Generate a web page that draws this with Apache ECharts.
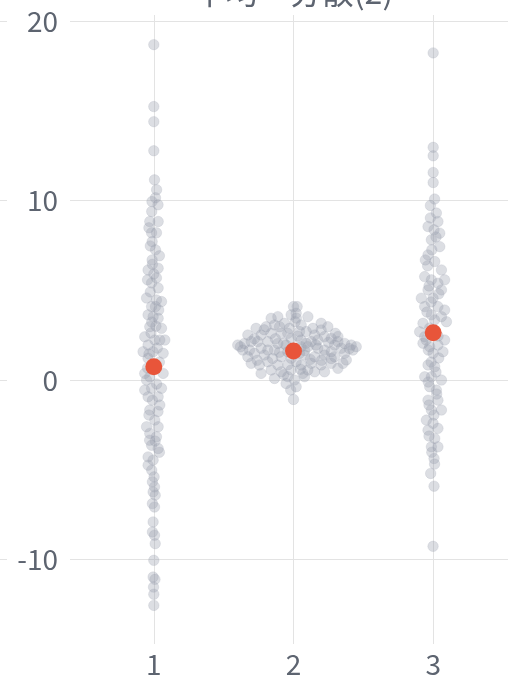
<!DOCTYPE html>
<html>
<head>
<meta charset="utf-8">
<script src="https://cdn.jsdelivr.net/npm/echarts@6/dist/echarts.min.js"></script>
<style>
  html, body { margin: 0; padding: 0; background: #ffffff; }
  #chart { width: 508px; height: 678px; }
</style>
</head>
<body>
<div id="chart"></div>
<script>
// Panel title and axis ticks
const panelTitle = '平均・分散(2)';
const groupLabels = ['1', '2', '3'];
const xTicks = [1, 2, 3];
const yTicks = [-10, 0, 10, 20];

// Swarm points per group: [group position, value]
const group1 = [
  [1.00, 18.68], [1.00, 15.23], [1.00, 14.39], [1.00, 12.77], [1.005, 11.15], [1.02, 10.60],
  [1.012, 10.15], [0.987, 9.94], [0.985, 9.39], [0.971, 8.83], [1.031, 8.83], [0.984, 8.20],
  [1.019, 8.20], [0.988, 7.71], [1.012, 7.25], [0.988, 6.69], [0.959, 6.13], [1.031, 6.23],
  [0.955, 5.58], [0.984, 5.41], [1.019, 5.69], [1.031, 5.13], [0.948, 4.57], [1.019, 4.46],
  [1.055, 4.37], [0.984, 4.09], [1.012, 4.09], [0.959, 3.63], [0.995, 3.53], [1.031, 3.44],
  [0.971, 2.97], [1.055, 2.88], [0.935, 2.41], [1.007, 2.23], [1.043, 2.23], [1.079, 2.23],
  [0.959, 1.95], [0.923, 1.58], [0.995, 1.58], [1.067, 1.49], [0.959, 1.21], [0.935, 0.37],
  [1.067, 0.37], [0.971, 0.18], [0.948, 0.00], [0.935, -0.56], [0.984, -0.46], [1.055, -0.46],
  [0.959, -0.93], [1.031, -0.93], [1.043, -1.39], [0.971, -1.67], [1.007, -2.23], [0.948, -2.60],
  [1.031, -2.60], [0.971, -2.97], [1.019, -3.16], [0.984, -3.63], [1.031, -3.81], [0.959, -4.28],
  [0.995, -4.46], [0.959, -4.74], [1.002, -5.39], [0.99, -5.67], [1.005, -5.95], [0.995, -6.23],
  [1.01, -6.41], [0.99, -6.88], [1.005, -7.07], [0.995, -7.90], [0.99, -8.46], [1.005, -8.64],
  [1.01, -9.11], [1.00, -10.04], [0.995, -10.97], [1.008, -11.10], [0.998, -11.53], [1.00, -11.93],
  [1.00, -12.55], [1.03, 9.76], [0.965, 8.48], [0.975, 7.47], [1.04, 6.92], [1.00, 5.91],
  [0.975, 4.91], [1.035, 3.90], [0.985, 3.23], [0.98, 2.62], [1.025, 1.78], [1.04, 1.00],
  [0.955, 0.67], [1.02, -0.22], [0.99, -1.12], [0.965, -1.95], [1.01, -3.40], [1.04, -4.02],
  [0.985, -5.02], [1.015, 3.00], [0.965, 1.45], [1.03, -1.75], [0.99, 6.45], [0.97, -3.35]
];

const group2 = [
  [2.000, 4.09], [2.026, 4.09], [1.983, 3.63], [2.019, 3.72], [2.012, 3.25], [1.840, 3.44],
  [1.888, 3.53], [2.103, 3.53], [2.198, 3.16], [2.246, 2.97], [1.864, 3.07], [1.804, 2.97],
  [1.935, 3.16], [2.055, 3.07], [1.971, 2.88], [1.732, 2.88], [1.673, 2.51], [1.768, 2.51],
  [1.840, 2.60], [1.912, 2.60], [2.091, 2.70], [2.151, 2.51], [2.222, 2.42], [2.294, 1.95],
  [2.270, 2.32], [1.744, 2.14], [1.816, 2.14], [1.888, 2.04], [1.983, 2.32], [2.055, 2.23],
  [2.127, 2.14], [1.601, 1.95], [1.649, 2.04], [1.697, 2.14], [1.768, 1.77], [1.864, 1.67],
  [2.103, 1.86], [2.174, 1.77], [2.222, 1.67], [2.318, 2.14], [2.366, 2.04], [2.413, 1.95],
  [2.449, 1.86], [2.342, 1.77], [1.673, 1.30], [1.720, 1.49], [1.792, 1.39], [1.912, 1.30],
  [2.079, 1.39], [2.151, 1.30], [2.222, 1.39], [2.294, 1.30], [2.366, 1.49], [2.425, 1.67],
  [1.697, 0.93], [1.756, 0.84], [1.816, 1.02], [1.888, 0.84], [2.055, 0.84], [2.127, 0.93],
  [2.198, 0.84], [2.270, 0.93], [2.354, 0.93], [2.378, 1.12], [2.318, 0.65], [1.768, 0.37],
  [1.840, 0.56], [1.912, 0.46], [1.983, 0.56], [2.067, 0.37], [2.151, 0.46], [2.222, 0.46],
  [1.864, 0.09], [1.959, 0.19], [2.079, 0.19], [1.947, -0.19], [2.007, 0.00], [2.019, -0.37],
  [2.000, -1.08], [2.000, 1.77], [1.959, 1.58], [2.043, 1.49], [1.983, 1.21], [2.019, 1.02],
  [1.947, 1.95], [2.055, 1.86], [1.959, 2.60], [2.043, 2.70], [2.174, 2.23], [1.816, 1.67],
  [1.637, 1.67], [2.270, 1.58], [2.139, 2.88], [2.198, 2.79], [2.318, 2.42], [1.685, 1.67],
  [2.103, 0.56], [1.900, 2.97], [1.72, 2.30], [1.79, 2.80], [1.87, 2.30], [1.93, 2.05],
  [2.03, 2.45], [2.09, 2.05], [2.16, 1.95], [2.25, 2.10], [2.30, 2.60], [2.20, 1.10],
  [2.12, 1.15], [1.85, 1.20], [1.74, 1.10], [1.90, 1.55], [2.08, 1.65], [2.40, 1.75],
  [1.62, 1.85], [2.27, 1.20], [1.96, 0.85], [2.05, 0.60], [1.93, 0.30], [1.98, -0.55],
  [2.02, 3.45]
];

const group3 = [
  [3.00, 18.22], [3.00, 12.96], [3.00, 12.49], [3.00, 11.56], [3.00, 11.00], [3.01, 10.08],
  [2.98, 9.72], [3.023, 9.30], [3.034, 8.83], [2.963, 8.55], [3.006, 8.37], [3.047, 8.18],
  [2.987, 7.81], [3.047, 7.43], [2.963, 6.97], [2.944, 6.69], [3.011, 6.60], [3.059, 6.13],
  [2.939, 5.76], [2.987, 5.58], [3.034, 5.39], [3.082, 5.58], [2.963, 5.02], [3.059, 5.02],
  [2.915, 4.56], [2.999, 4.56], [2.939, 4.09], [3.034, 4.09], [3.082, 3.90], [2.987, 3.63],
  [3.059, 3.53], [2.927, 3.16], [3.095, 3.25], [2.903, 2.69], [2.939, 2.41], [3.082, 2.23],
  [2.927, 2.05], [2.975, 1.86], [3.034, 1.95], [3.07, 1.58], [2.999, 1.49], [2.963, 0.84],
  [3.011, 0.74], [2.939, 0.18], [2.987, 0.18], [3.059, 0.00], [2.975, -0.37], [3.023, -0.56],
  [2.963, -1.12], [3.034, -1.12], [2.987, -1.67], [3.059, -1.67], [2.951, -2.23], [2.999, -2.41],
  [2.963, -2.79], [3.034, -2.69], [3.011, -3.25], [2.987, -3.72], [3.034, -3.72], [3.006, -4.37],
  [2.982, -5.20], [3.006, -5.91], [2.999, -9.26], [2.98, 9.03], [3.02, 7.97], [2.99, 7.25],
  [2.96, 6.36], [2.97, 5.24], [3.04, 4.80], [2.985, 4.35], [2.955, 3.79], [3.01, 3.35],
  [2.975, 2.90], [3.035, 2.45], [2.95, 2.23], [2.965, 1.67], [3.04, 1.23], [2.985, 1.00],
  [3.02, 0.45], [2.965, -0.11], [3.025, -0.78], [2.97, -1.39], [3.005, -1.95], [2.97, -3.12],
  [2.99, -4.02], [3.01, -4.68]
];

// Group means
const groupMeans = [0.74, 1.62, 2.64];

const FONT = '"Noto Sans CJK JP", "Noto Sans", sans-serif';
const TEXT_COLOR = '#5d6470';
const GRID_COLOR = '#e3e3e3';
const POINT_STYLE = { color: 'rgba(150,158,172,0.42)', borderColor: 'rgba(150,158,172,0.3)', borderWidth: 0.8 };
const yRange = { min: -14.7, max: 20.33 };

const chart = echarts.init(document.getElementById('chart'), null, { renderer: 'canvas' });

function swarm(data) {
  return {
    type: 'scatter', xAxisIndex: 0, yAxisIndex: 0, data: data,
    symbol: 'circle', symbolSize: 10.5, itemStyle: POINT_STYLE, z: 2,
    emphasis: { disabled: true }, silent: true
  };
}

chart.setOption({
  animation: false,
  backgroundColor: '#ffffff',
  graphic: [{
    type: 'text', x: 293.5, y: 8, silent: true,
    style: { text: panelTitle, font: '32px ' + FONT, fill: TEXT_COLOR, align: 'center', verticalAlign: 'bottom' }
  }],
  grid: [
    { left: 70, right: -9, top: 15, bottom: 34, containLabel: false, outerBoundsMode: 'none' },
    { left: -100, right: 501, top: 15, bottom: 34, containLabel: false, outerBoundsMode: 'none' }
  ],
  xAxis: [
    {
      gridIndex: 0, type: 'value', min: 0.4, max: 3.6,
      axisLine: { show: false },
      axisTick: { show: false, customValues: xTicks },
      axisLabel: {
        customValues: xTicks, fontSize: 28, color: TEXT_COLOR, fontFamily: FONT, margin: 6,
        formatter: v => groupLabels[Math.round(v) - 1]
      },
      splitLine: { show: true, lineStyle: { color: GRID_COLOR, width: 1 } }
    },
    { gridIndex: 1, type: 'value', min: 0, max: 1, show: false }
  ],
  yAxis: [
    {
      gridIndex: 0, type: 'value', min: yRange.min, max: yRange.max,
      axisLine: { show: false },
      axisTick: { show: false, customValues: yTicks },
      axisLabel: { customValues: yTicks, fontSize: 28, color: TEXT_COLOR, fontFamily: FONT, margin: 12 },
      splitLine: { show: true, lineStyle: { color: GRID_COLOR, width: 1 } }
    },
    {
      gridIndex: 1, type: 'value', min: yRange.min, max: yRange.max,
      axisLine: { show: false },
      axisTick: { show: false, customValues: yTicks },
      axisLabel: { show: false, customValues: yTicks },
      splitLine: { show: true, lineStyle: { color: GRID_COLOR, width: 1 } }
    }
  ],
  series: [
    swarm(group1),
    swarm(group2),
    swarm(group3),
    {
      type: 'scatter', xAxisIndex: 0, yAxisIndex: 0,
      data: groupMeans.map((m, i) => [xTicks[i], m]),
      symbol: 'circle', symbolSize: 17,
      itemStyle: { color: '#e8553a', opacity: 1 }, z: 5,
      emphasis: { disabled: true }, silent: true
    }
  ]
});
</script>
</body>
</html>
